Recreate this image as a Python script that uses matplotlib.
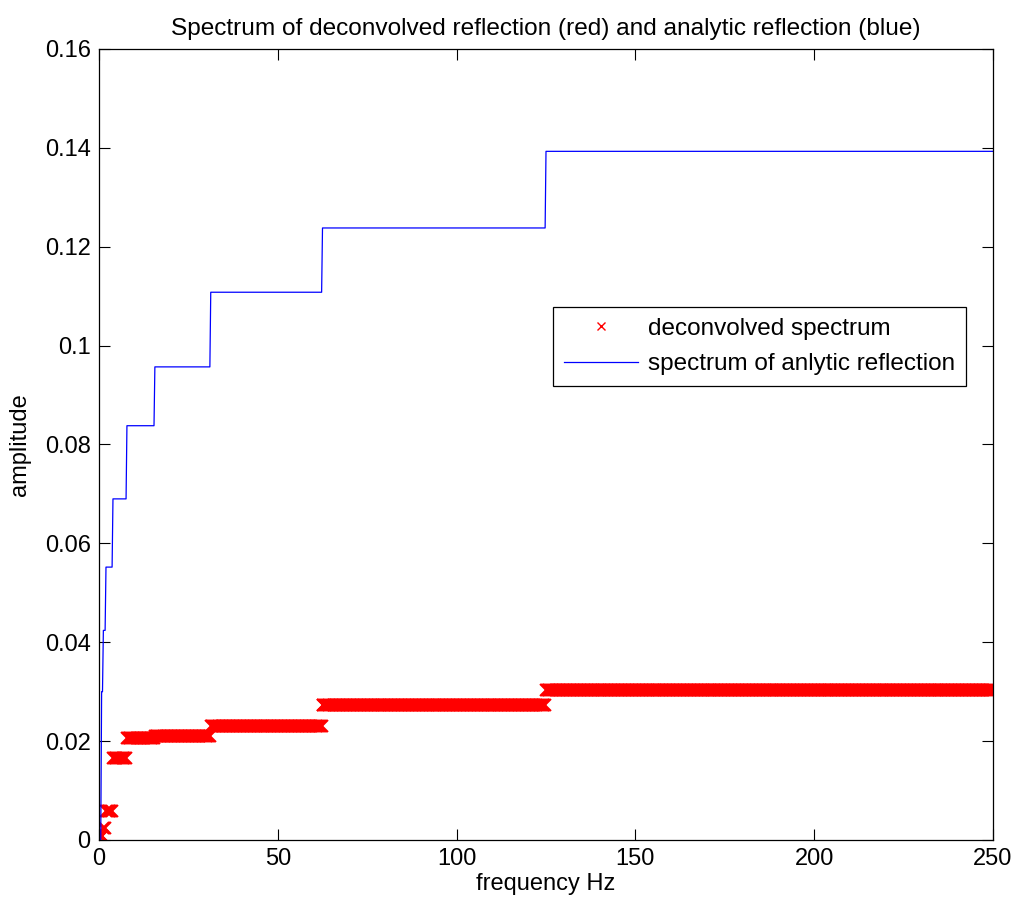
import numpy as np
import matplotlib
matplotlib.use("Agg")
import matplotlib.pyplot as plt

plt.rcParams['font.family'] = ['Liberation Sans', 'DejaVu Sans']

# band edges (Hz): each band starts at this frequency
band_start = [0.0, 0.5, 0.98, 1.95, 3.9, 7.8, 15.6, 31.25, 62.5, 125.0]
# analytic reflection spectrum level per band (blue)
blue_level = [0.0, 0.030, 0.0424, 0.0552, 0.0690, 0.0838, 0.0957, 0.1108, 0.1238, 0.1393]
# deconvolved spectrum level per band (red)
red_level = [0.0008, 0.0008, 0.0025, 0.0058, 0.0166, 0.0207, 0.0210, 0.0231, 0.0274, 0.0303]

# frequency axes
f_red = np.linspace(0, 250, 1025)
f_blue = np.linspace(0, 250, 1025)

def lookup(f, levels):
    idx = np.searchsorted(band_start, f, side="right") - 1
    return np.array(levels)[idx]

W, H, DPI = 1017, 908, 100
fig = plt.figure(figsize=(W / DPI, H / DPI), dpi=DPI)
ax = fig.add_axes([99 / W, 1 - 840 / H, 894 / W, 791 / H])

ax.plot(f_red, lookup(f_red, red_level), "x", color="#ff0000", ms=8, mew=1.4,
        label="deconvolved spectrum")
ax.plot(f_blue, lookup(f_blue, blue_level), "-", color="#0000ff", lw=0.9,
        label="spectrum of anlytic reflection")

ax.set_xlim(0, 250)
ax.set_ylim(0, 0.16)
ax.set_xticks([0, 50, 100, 150, 200, 250])
ax.set_yticks(np.arange(0, 0.161, 0.02))
ax.set_yticklabels(["0", "0.02", "0.04", "0.06", "0.08", "0.1", "0.12", "0.14", "0.16"])
ax.tick_params(direction="in", length=8, width=0.8, top=True, right=True,
               labelsize=17, pad=6)
for s in ax.spines.values():
    s.set_linewidth(0.9)

ax.set_xlabel("frequency Hz", fontsize=17, labelpad=2)
ax.set_ylabel("amplitude", fontsize=17, labelpad=10)
ax.set_title("Spectrum of deconvolved reflection (red) and analytic reflection (blue)",
             fontsize=17.6, pad=10)

leg = ax.legend(loc="upper right", bbox_to_anchor=(0.970, 0.674), fontsize=17.5,
                frameon=True, fancybox=False, edgecolor="black", framealpha=1,
                handlelength=3.05, handletextpad=0.4, borderpad=0.45,
                labelspacing=0.55, borderaxespad=0)
leg.get_frame().set_linewidth(0.9)
leg.legend_handles[0].set_markersize(6)
leg.legend_handles[0].set_markeredgewidth(1.0)

fig.savefig("out.png", dpi=DPI)
